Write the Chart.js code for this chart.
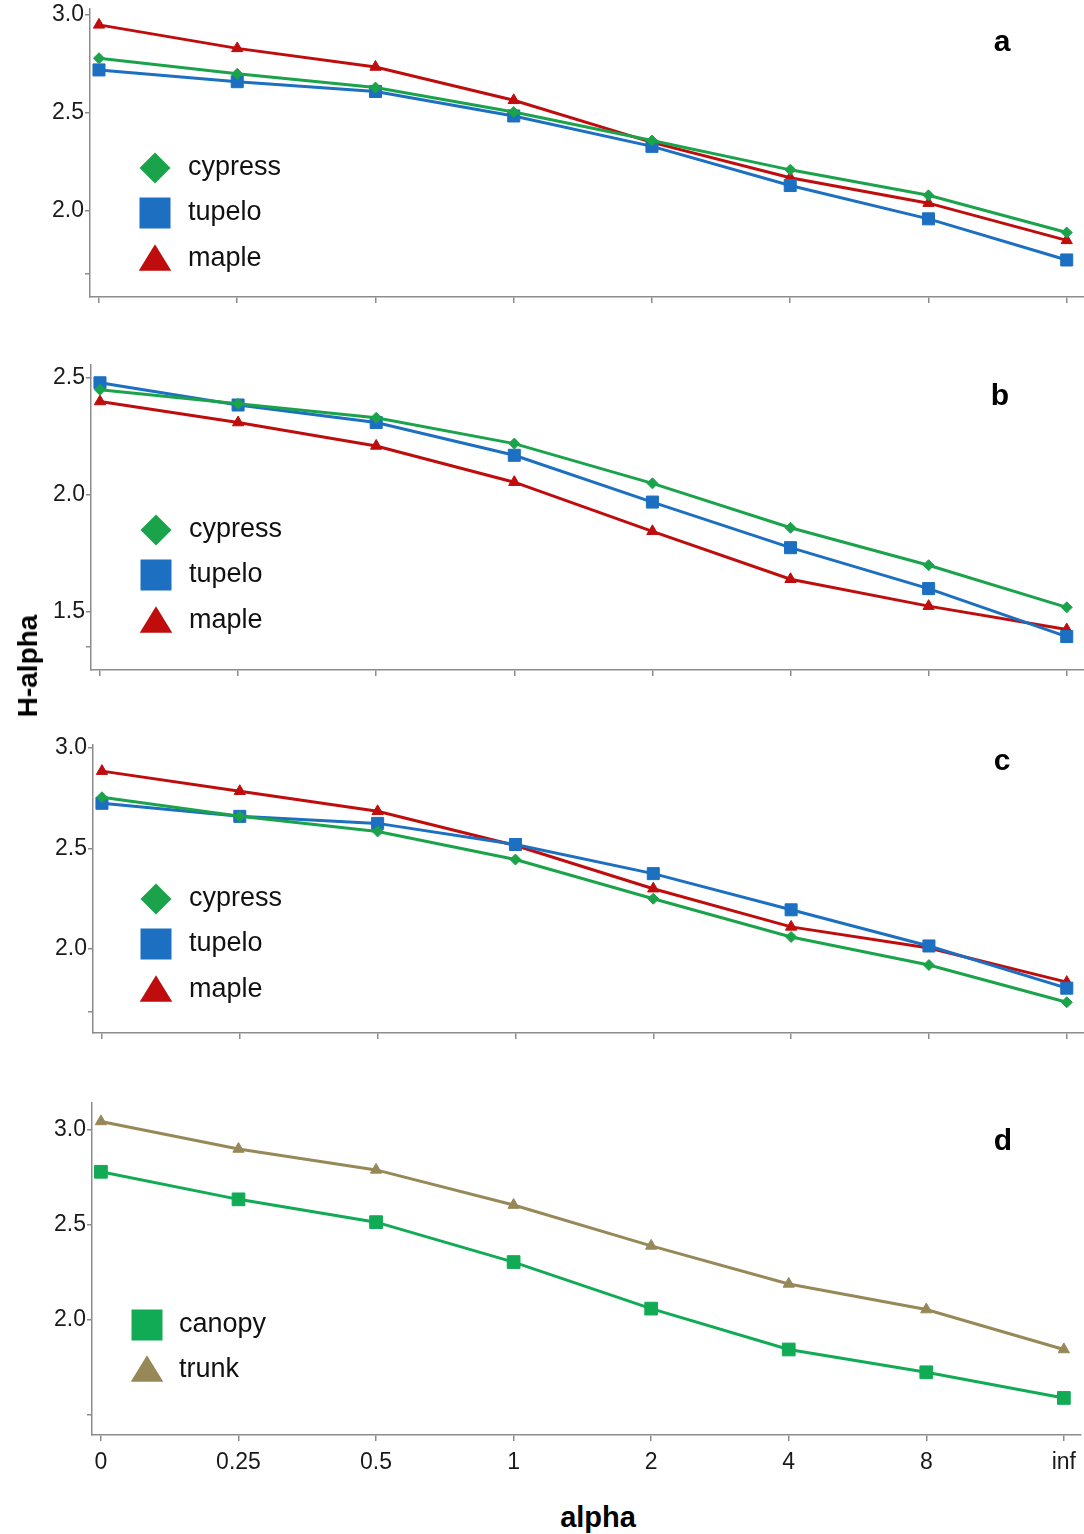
<!DOCTYPE html>
<html>
<head>
<meta charset="utf-8">
<script src="https://cdn.jsdelivr.net/npm/chart.js"></script>
<style>
  html, body { margin: 0; padding: 0; background: #fff; }
  body { width: 1084px; height: 1534px; position: relative; overflow: hidden; font-family: "Liberation Sans", Arial, sans-serif; }
  canvas { position: absolute; left: 0; }
  .ytitle { position: absolute; left: 28px; top: 666px; transform: translate(-50%, -50%) rotate(-90deg); font-weight: bold; font-size: 28px; color: #000; white-space: nowrap; }
  .xtitle { position: absolute; left: 598px; top: 1517px; transform: translate(-50%, -50%); font-weight: bold; font-size: 29px; color: #000; }
</style>
</head>
<body>
<canvas id="pa"></canvas>
<canvas id="pb"></canvas>
<canvas id="pc"></canvas>
<canvas id="pd"></canvas>
<div class="ytitle">H-alpha</div>
<div class="xtitle">alpha</div>
<script>
// x categories
var alphaLabels = ['0', '0.25', '0.5', '1', '2', '4', '8', 'inf'];

// panel a
var cypressA = [2.78, 2.70, 2.63, 2.505, 2.36, 2.21, 2.08, 1.89];
var tupeloA  = [2.72, 2.66, 2.61, 2.485, 2.33, 2.13, 1.96, 1.75];
var mapleA   = [2.95, 2.83, 2.735, 2.565, 2.35, 2.17, 2.04, 1.85];
// panel b
var cypressB = [2.45, 2.39, 2.33, 2.22, 2.05, 1.86, 1.70, 1.52];
var tupeloB  = [2.48, 2.385, 2.31, 2.17, 1.97, 1.775, 1.60, 1.395];
var mapleB   = [2.40, 2.31, 2.21, 2.055, 1.845, 1.64, 1.525, 1.425];
// panel c
var cypressC = [2.755, 2.66, 2.585, 2.445, 2.25, 2.06, 1.92, 1.735];
var tupeloC  = [2.725, 2.66, 2.625, 2.52, 2.375, 2.195, 2.015, 1.805];
var mapleC   = [2.885, 2.785, 2.685, 2.515, 2.30, 2.11, 2.005, 1.835];
// panel d
var canopyD  = [2.78, 2.635, 2.515, 2.305, 2.06, 1.845, 1.725, 1.59];
var trunkD   = [3.045, 2.90, 2.79, 2.605, 2.39, 2.19, 2.055, 1.845];

// y ticks (labelled) and the unlabelled minor tick of each panel
var yTicksA = [2.0, 2.5, 3.0], yMinorA = 1.68;
var yTicksB = [1.5, 2.0, 2.5], yMinorB = 1.35;
var yTicksC = [2.0, 2.5, 3.0], yMinorC = 1.69;
var yTicksD = [2.0, 2.5, 3.0], yMinorD = 1.5;

var FONT = '"Liberation Sans", Arial, sans-serif';
var AXIS = '#8c8c8c';
var GREEN = '#1ba34b', BLUE = '#1c6fc1', RED = '#bf0d0d';
var CANOPY = '#12ab55', TRUNK = '#978858';

var PAD_TOP = 20, PAD_BOTTOM = 10;

function series(label, values, color, style, radius) {
  return {
    label: label,
    data: values.map(function (v, i) { return { x: i, y: v }; }),
    borderColor: color,
    backgroundColor: color,
    pointBackgroundColor: color,
    pointBorderColor: color,
    pointBorderWidth: 1,
    borderWidth: 3,
    pointStyle: style,
    pointRadius: radius,
    tension: 0
  };
}

function drawMarker(ctx, style, x, y, s) {
  ctx.beginPath();
  if (style === 'rectRot') {
    ctx.moveTo(x, y - s); ctx.lineTo(x + s, y); ctx.lineTo(x, y + s); ctx.lineTo(x - s, y);
  } else if (style === 'rect') {
    ctx.rect(x - s, y - s, 2 * s, 2 * s);
  } else {
    ctx.moveTo(x, y - s * 0.95); ctx.lineTo(x + s * 1.05, y + s * 0.75); ctx.lineTo(x - s * 1.05, y + s * 0.75);
  }
  ctx.closePath();
  ctx.fill();
}

var panelDecor = {
  id: 'panelDecor',
  afterDraw: function (chart, args, opts) {
    var ctx = chart.ctx, area = chart.chartArea;
    ctx.save();
    ctx.fillStyle = '#000';
    ctx.font = 'bold 30px ' + FONT;
    ctx.textAlign = 'center';
    ctx.textBaseline = 'middle';
    ctx.fillText(opts.letter, opts.letterX, area.top + opts.letterY);
    chart.data.datasets.forEach(function (ds, i) {
      var y = area.top + opts.legendY[i];
      ctx.fillStyle = ds.borderColor;
      drawMarker(ctx, ds.pointStyle, opts.markerX, y, 15.5);
      ctx.fillStyle = '#111';
      ctx.font = '27px ' + FONT;
      ctx.textAlign = 'left';
      ctx.fillText(ds.label, opts.textX, y);
    });
    ctx.restore();
  }
};

function makePanel(id, p) {
  var xh = p.showX ? 45 : 10;
  var h = PAD_TOP + (p.bottom - p.top) + xh + PAD_BOTTOM;
  var canvas = document.getElementById(id);
  canvas.width = 1084;
  canvas.height = h;
  canvas.style.top = (p.top - PAD_TOP) + 'px';

  return new Chart(canvas.getContext('2d'), {
    type: 'line',
    data: { datasets: p.datasets },
    plugins: [panelDecor],
    options: {
      responsive: false,
      animation: false,
      layout: { autoPadding: false, padding: { top: PAD_TOP, bottom: PAD_BOTTOM, left: 0, right: 0 } },
      plugins: {
        legend: { display: false },
        tooltip: { enabled: false },
        panelDecor: p.decor
      },
      scales: {
        x: {
          type: 'linear',
          min: -0.065,
          max: 7.125,
          afterFit: function (scale) { scale.height = xh; },
          afterBuildTicks: function (scale) {
            scale.ticks = alphaLabels.map(function (l, i) { return { value: i }; });
          },
          ticks: {
            padding: 8,
            color: '#1a1a1a',
            font: { family: FONT, size: 23 },
            maxRotation: 0,
            autoSkip: false,
            callback: function (v) { return p.showX ? alphaLabels[v] : ''; }
          },
          grid: { drawOnChartArea: false, drawTicks: true, tickLength: 6, color: AXIS, lineWidth: 1.5 },
          border: { display: true, color: AXIS, width: 1.5 }
        },
        y: {
          type: 'linear',
          min: p.yMin,
          max: p.yMax,
          afterFit: function (scale) { scale.width = p.left; },
          afterBuildTicks: function (scale) {
            scale.ticks = [{ value: p.minor }].concat(p.yTicks.map(function (v) { return { value: v }; }));
          },
          ticks: {
            padding: 1,
            color: '#1a1a1a',
            font: { family: FONT, size: 23 },
            callback: function (v) { return v === p.minor ? '' : v.toFixed(1); }
          },
          grid: { drawOnChartArea: false, drawTicks: true, tickLength: 5, color: AXIS, lineWidth: 1.5 },
          border: { display: true, color: AXIS, width: 1.5 }
        }
      }
    }
  });
}

makePanel('pa', {
  top: 9, bottom: 297, left: 90, yMin: 1.561, yMax: 3.031,
  yTicks: yTicksA, minor: yMinorA, showX: false,
  datasets: [
    series('cypress', cypressA, GREEN, 'rectRot', 5.5),
    series('tupelo', tupeloA, BLUE, 'rect', 8.5),
    series('maple', mapleA, RED, 'triangle', 6.5)
  ],
  decor: { letter: 'a', letterX: 1002, letterY: 34, legendY: [159, 204, 250], markerX: 155, textX: 188 }
});

makePanel('pb', {
  top: 365, bottom: 670, left: 91, yMin: 1.252, yMax: 2.556,
  yTicks: yTicksB, minor: yMinorB, showX: false,
  datasets: [
    series('cypress', cypressB, GREEN, 'rectRot', 5.5),
    series('tupelo', tupeloB, BLUE, 'rect', 8.5),
    series('maple', mapleB, RED, 'triangle', 6.5)
  ],
  decor: { letter: 'b', letterX: 1000, letterY: 32, legendY: [165, 210, 256], markerX: 156, textX: 189 }
});

makePanel('pc', {
  top: 745, bottom: 1033, left: 93, yMin: 1.582, yMax: 3.015,
  yTicks: yTicksC, minor: yMinorC, showX: false,
  datasets: [
    series('cypress', cypressC, GREEN, 'rectRot', 5.5),
    series('tupelo', tupeloC, BLUE, 'rect', 8.5),
    series('maple', mapleC, RED, 'triangle', 6.5)
  ],
  decor: { letter: 'c', letterX: 1002, letterY: 17, legendY: [154, 199, 245], markerX: 156, textX: 189 }
});

makePanel('pd', {
  top: 1103, bottom: 1435, left: 92, yMin: 1.395, yMax: 3.142,
  yTicks: yTicksD, minor: yMinorD, showX: true,
  datasets: [
    series('canopy', canopyD, CANOPY, 'rect', 9),
    series('trunk', trunkD, TRUNK, 'triangle', 6.5)
  ],
  decor: { letter: 'd', letterX: 1003, letterY: 39, legendY: [222, 267], markerX: 147, textX: 179 }
});
</script>
</body>
</html>
